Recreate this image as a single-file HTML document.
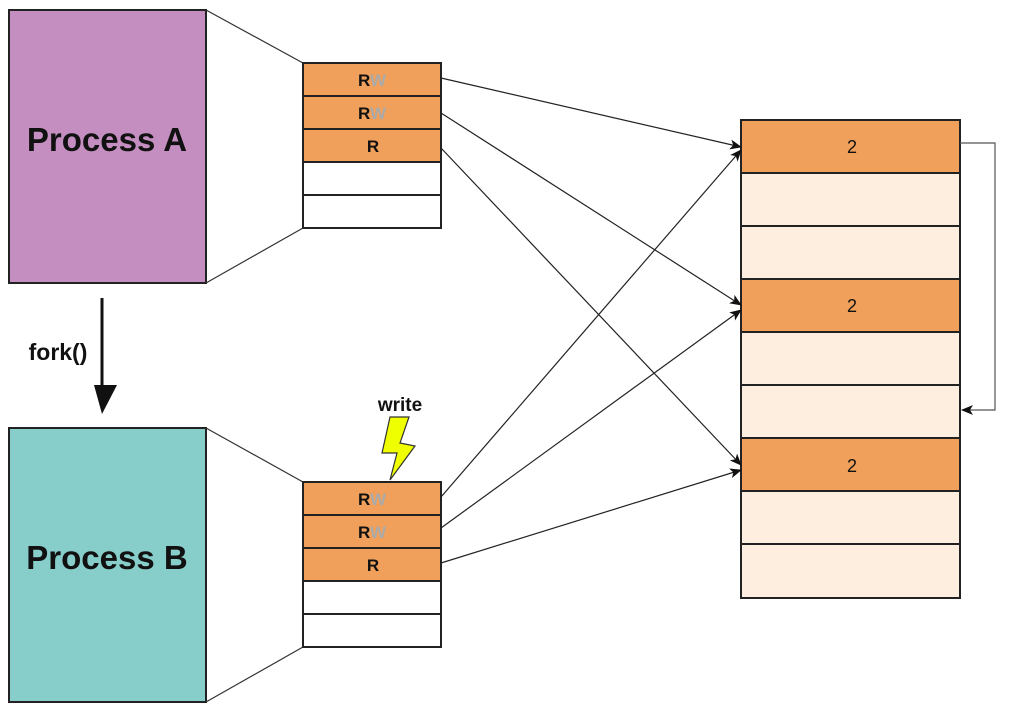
<!DOCTYPE html>
<html><head><meta charset="utf-8"><style>
html,body{margin:0;padding:0;background:#fff;}
svg{display:block;}
text{font-family:"Liberation Sans",sans-serif;}
</style></head><body>
<svg width="1014" height="715" viewBox="0 0 1014 715" xmlns="http://www.w3.org/2000/svg">
<defs>
<marker id="ah" markerWidth="12" markerHeight="10" refX="11" refY="5" orient="auto" markerUnits="userSpaceOnUse">
<path d="M0,0 L12,5 L0,10 L3,5 z" fill="#111"/>
</marker>
</defs>
<rect x="9" y="10" width="197" height="273" fill="#c48fc0" stroke="#222" stroke-width="2"/>
<text x="107" y="151" font-size="33" font-weight="bold" text-anchor="middle" fill="#111">Process A</text>
<rect x="9" y="428" width="197" height="274" fill="#87cdc9" stroke="#222" stroke-width="2"/>
<text x="107" y="569" font-size="33" font-weight="bold" text-anchor="middle" fill="#111">Process B</text>
<g stroke="#333" stroke-width="1.2">
<line x1="206" y1="10" x2="303" y2="63"/>
<line x1="206" y1="283" x2="303" y2="228"/>
<line x1="206" y1="428" x2="303" y2="482"/>
<line x1="206" y1="702" x2="303" y2="647"/>
</g>
<line x1="102" y1="298" x2="102" y2="392" stroke="#111" stroke-width="3"/>
<polygon points="94,385 117,385 102,414" fill="#111"/>
<text x="58" y="360" font-size="23" font-weight="bold" text-anchor="middle" fill="#111">fork()</text>
<g stroke="#222" stroke-width="2">
<rect x="303" y="63" width="138" height="33" fill="#f0a05a"/>
<rect x="303" y="96" width="138" height="33" fill="#f0a05a"/>
<rect x="303" y="129" width="138" height="33" fill="#f0a05a"/>
<rect x="303" y="162" width="138" height="33" fill="#fff"/>
<rect x="303" y="195" width="138" height="33" fill="#fff"/>
<rect x="303" y="482" width="138" height="33" fill="#f0a05a"/>
<rect x="303" y="515" width="138" height="33" fill="#f0a05a"/>
<rect x="303" y="548" width="138" height="33" fill="#f0a05a"/>
<rect x="303" y="581" width="138" height="33" fill="#fff"/>
<rect x="303" y="614" width="138" height="33" fill="#fff"/>
</g>
<g font-size="17" font-weight="bold" text-anchor="middle">
<text x="372" y="86"><tspan fill="#111">R</tspan><tspan fill="#aaa">W</tspan></text>
<text x="372" y="119"><tspan fill="#111">R</tspan><tspan fill="#aaa">W</tspan></text>
<text x="373" y="152" fill="#111">R</text>
<text x="372" y="505"><tspan fill="#111">R</tspan><tspan fill="#aaa">W</tspan></text>
<text x="372" y="538"><tspan fill="#111">R</tspan><tspan fill="#aaa">W</tspan></text>
<text x="373" y="571" fill="#111">R</text>
</g>
<polygon points="390,417 409,417 400,443 415,446 390,480 397,453 382,453" fill="#f0ff00" stroke="#333" stroke-width="1.2"/>
<text x="400" y="411" font-size="19" font-weight="bold" text-anchor="middle" fill="#111">write</text>
<g stroke="#222" stroke-width="2">
<rect x="741" y="120" width="219" height="53" fill="#f0a05a"/>
<rect x="741" y="173" width="219" height="53" fill="#fdeee0"/>
<rect x="741" y="226" width="219" height="53" fill="#fdeee0"/>
<rect x="741" y="279" width="219" height="53" fill="#f0a05a"/>
<rect x="741" y="332" width="219" height="53" fill="#fdeee0"/>
<rect x="741" y="385" width="219" height="53" fill="#fdeee0"/>
<rect x="741" y="438" width="219" height="53" fill="#f0a05a"/>
<rect x="741" y="491" width="219" height="53" fill="#fdeee0"/>
<rect x="741" y="544" width="219" height="54" fill="#fdeee0"/>
</g>
<g font-size="18" text-anchor="middle" fill="#111">
<text x="852" y="153">2</text>
<text x="852" y="312">2</text>
<text x="852" y="472">2</text>
</g>
<g stroke="#222" stroke-width="1.2" fill="none" marker-end="url(#ah)">
<line x1="441" y1="78" x2="741" y2="147"/>
<line x1="441" y1="113" x2="741" y2="305"/>
<line x1="441" y1="148" x2="741" y2="465"/>
<line x1="441" y1="497" x2="741" y2="150"/>
<line x1="441" y1="528" x2="741" y2="310"/>
<line x1="441" y1="563" x2="741" y2="470"/>
<polyline points="960,143 995,143 995,410 962,410" stroke="#555"/>
</g>
</svg>
</body></html>
